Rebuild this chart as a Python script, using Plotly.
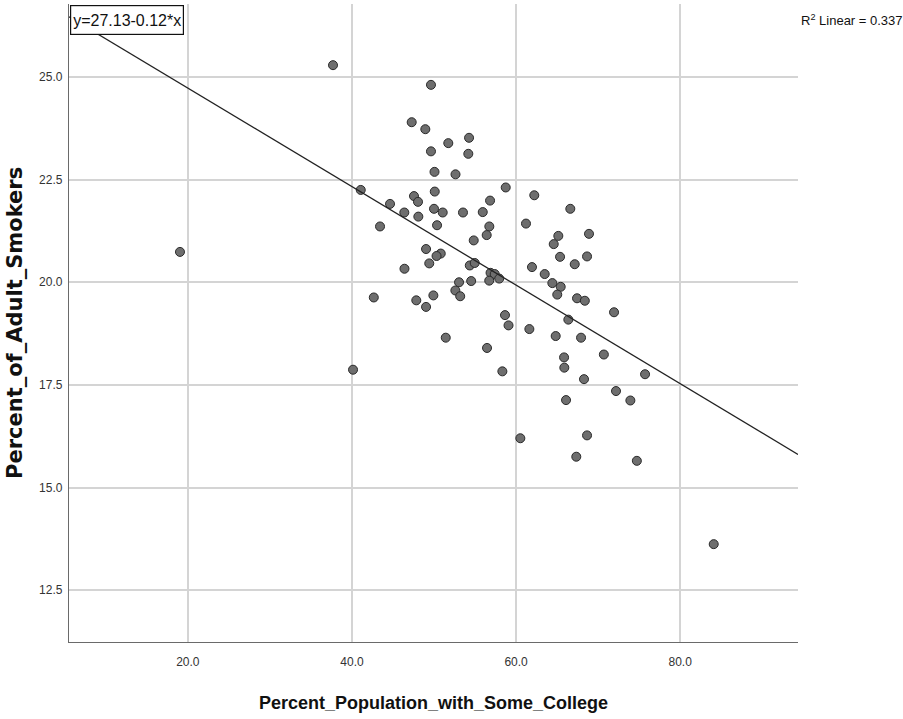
import plotly.graph_objects as go

# Data
pct_some_college = [
    19.04, 37.69, 49.63, 47.28, 48.94, 51.74, 54.27, 49.63, 54.18, 50.06,
    52.62, 41.07, 58.74, 47.56, 48.05, 50.09, 44.64, 50.00, 51.06, 53.53,
    55.94, 56.83, 46.38, 48.09, 43.42, 50.37, 56.74, 56.42, 54.84, 49.03,
    50.82, 50.31, 49.42, 46.40, 54.36, 54.96, 56.89, 57.40, 53.05, 54.53,
    56.73, 57.95, 42.66, 47.84, 49.03, 49.92, 52.60, 53.19, 58.65, 59.08,
    51.43, 56.46, 40.13, 58.33, 62.22, 66.61, 61.21, 65.15, 64.59, 68.89,
    65.36, 68.65, 67.15, 61.94, 63.49, 64.42, 65.44, 65.02, 67.43, 68.38,
    71.94, 61.62, 66.37, 64.83, 67.92, 70.70, 65.85, 65.88, 75.72, 68.28,
    72.18, 73.93, 66.09, 60.52, 68.65, 67.34, 74.72, 84.09,
]
pct_adult_smokers = [
    20.74, 25.29, 24.81, 23.90, 23.73, 23.39, 23.52, 23.19, 23.13, 22.69,
    22.63, 22.25, 22.31, 22.10, 21.96, 22.21, 21.91, 21.79, 21.70, 21.70,
    21.71, 21.99, 21.70, 21.60, 21.36, 21.39, 21.36, 21.15, 21.02, 20.81,
    20.70, 20.64, 20.46, 20.33, 20.41, 20.47, 20.23, 20.20, 20.00, 20.03,
    20.04, 20.09, 19.63, 19.56, 19.40, 19.68, 19.80, 19.66, 19.20, 18.95,
    18.65, 18.40, 17.87, 17.83, 22.12, 21.79, 21.43, 21.13, 20.93, 21.18,
    20.62, 20.63, 20.44, 20.37, 20.20, 19.98, 19.89, 19.70, 19.61, 19.55,
    19.27, 18.86, 19.09, 18.69, 18.65, 18.24, 18.17, 17.92, 17.76, 17.64,
    17.35, 17.12, 17.13, 16.20, 16.27, 15.75, 15.65, 13.62,
]

fit_intercept = 27.13
fit_slope = -0.12
r_squared = 0.337

x_range = [5.515, 94.36]
y_range = [11.236, 26.78]
x_ticks = [20, 40, 60, 80]
y_ticks = [12.5, 15.0, 17.5, 20.0, 22.5, 25.0]

fit_x = x_range
fit_y = [fit_intercept + fit_slope * v for v in fit_x]

fig = go.Figure()
fig.add_trace(go.Scatter(
    x=pct_some_college, y=pct_adult_smokers, mode="markers",
    marker=dict(size=9, color="#6e6e6e", line=dict(color="#2a2a2a", width=1)),
    showlegend=False, hoverinfo="x+y",
))
fig.add_trace(go.Scatter(
    x=fit_x, y=fit_y, mode="lines",
    line=dict(color="#222222", width=1.3),
    showlegend=False, hoverinfo="skip",
))

tick_font = dict(family="Liberation Sans, Arial, sans-serif", size=12, color="#333333")

fig.update_xaxes(
    range=x_range, tickvals=x_ticks, tickformat=".1f",
    showgrid=True, gridcolor="#d4d4d4", gridwidth=1.5,
    showline=True, linecolor="#6a6a6a", linewidth=1.3,
    zeroline=False, ticks="outside", ticklen=8, tickcolor="rgba(0,0,0,0)",
    tickfont=tick_font,
)
fig.update_yaxes(
    range=y_range, tickvals=y_ticks, tickformat=".1f",
    showgrid=True, gridcolor="#d4d4d4", gridwidth=1.5,
    showline=True, linecolor="#6a6a6a", linewidth=1.3,
    zeroline=False, ticks="outside", ticklen=3, tickcolor="rgba(0,0,0,0)",
    tickfont=tick_font,
)

fig.update_layout(
    width=903, height=719,
    margin=dict(l=69, r=105, t=4, b=77),
    paper_bgcolor="white", plot_bgcolor="white",
    annotations=[
        dict(
            text="y=%.2f%.2f*x" % (fit_intercept, fit_slope),
            xref="paper", yref="paper", x=0, y=1, xanchor="left", yanchor="top",
            xshift=1, yshift=-1, showarrow=False,
            font=dict(family="Liberation Sans, Arial, sans-serif", size=16, color="#111111"),
            bgcolor="white", bordercolor="#111111", borderwidth=1.2, borderpad=1,
            width=110, height=26,
        ),
        dict(
            text="R<sup>2</sup> Linear = %.3f" % r_squared,
            xref="paper", yref="paper", x=1, y=(642.3 - 20) / 638.3,
            xanchor="left", yanchor="middle", xshift=1, showarrow=False,
            font=dict(family="Liberation Sans, Arial, sans-serif", size=13, color="#111111"),
        ),
        dict(
            text="<b>Percent_Population_with_Some_College</b>",
            xref="paper", yref="paper", x=0.5, y=(642.3 - 703) / 638.3,
            xanchor="center", yanchor="middle", showarrow=False,
            font=dict(family="Liberation Sans, Arial, sans-serif", size=18, color="#111111"),
        ),
        dict(
            text="<b>Percent_of_Adult_Smokers</b>",
            xref="paper", yref="paper", x=(15 - 69) / 729, y=0.5,
            xanchor="center", yanchor="middle", textangle=-90, showarrow=False,
            font=dict(family="DejaVu Sans, Verdana, sans-serif", size=21, color="#111111"),
        ),
    ],
)

fig.write_html(
    "out.html",
    config={"displayModeBar": False},
    post_script="document.body.style.margin='0';document.body.style.overflow='hidden';",
)
